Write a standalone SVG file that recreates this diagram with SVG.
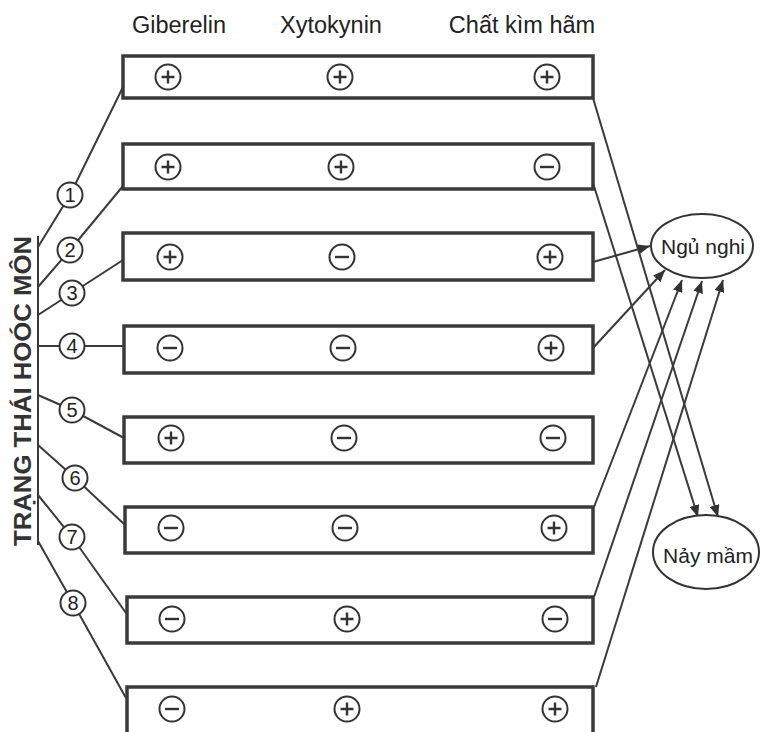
<svg xmlns="http://www.w3.org/2000/svg" xmlns:xlink="http://www.w3.org/1999/xlink" width="761" height="732" viewBox="0 0 761 732">
<style>
.box{fill:none;stroke:#3a3a3a;stroke-width:3.5}
.ln{fill:none;stroke:#3a3a3a;stroke-width:2}
.arr{fill:none;stroke:#3a3a3a;stroke-width:2;marker-end:url(#ah)}
.sg circle{fill:#fff;stroke:#333;stroke-width:2}
.sg path{stroke:#333;stroke-width:2.4;fill:none}
.num circle{fill:#fff;stroke:#333;stroke-width:2}
.num text{font-family:"Liberation Sans",Arial,sans-serif;font-size:20px;fill:#222;text-anchor:middle}
.hdr{font-family:"Liberation Sans",Arial,sans-serif;font-size:23.5px;fill:#222;text-anchor:middle}
.ell{fill:#fff;stroke:#333;stroke-width:2}
.elt{font-family:"Liberation Sans",Arial,sans-serif;font-size:21px;fill:#222;text-anchor:middle}
.vt{font-family:"Liberation Sans",Arial,sans-serif;font-size:23px;font-weight:bold;fill:#333;text-anchor:middle}
</style>
<defs>
<marker id="ah" viewBox="0 0 12 10" refX="12" refY="5" markerWidth="12" markerHeight="10" markerUnits="userSpaceOnUse" orient="auto">
<path d="M0,0L12,5L0,10z" fill="#333"/>
</marker>
<g id="p" class="sg"><circle r="12.5"/><path d="M-6.5,0H6.5M0,-6.5V6.5"/></g>
<g id="m" class="sg"><circle r="12.5"/><path d="M-7,0H7"/></g>
</defs>
<rect width="761" height="732" fill="#fff"/>

<g id="headers">
<text class="hdr" x="179" y="33">Giberelin</text>
<text class="hdr" x="331" y="33">Xytokynin</text>
<text class="hdr" x="522" y="33">Chất kìm hãm</text>
</g>

<g id="connectors">
<path class="ln" d="M38,236V545"/>
<path class="ln" d="M38,247L70,195L123,87"/>
<path class="ln" d="M38,287L70,250L123,186"/>
<path class="ln" d="M38,315L72,293L123,260"/>
<path class="ln" d="M38,346H124"/>
<path class="ln" d="M38,395L72,410L124,438"/>
<path class="ln" d="M38,445L75,478L125,525"/>
<path class="ln" d="M38,495L72,537L126,613"/>
<path class="ln" d="M38,541L73,603L126,698"/>
<path class="arr" d="M593,262L650,246"/>
<path class="arr" d="M593,348L665,270"/>
<path class="arr" d="M594,507L682,280"/>
<path class="arr" d="M594,597L702,281"/>
<path class="arr" d="M596,687L723,280"/>
<path class="arr" d="M593,98L718,517"/>
<path class="arr" d="M593,183L698,517"/>
</g>

<text class="vt" transform="translate(31,391) rotate(-90)" textLength="310" lengthAdjust="spacingAndGlyphs">TRẠNG THÁI HOÓC MÔN</text>

<g id="n1" class="num"><circle cx="70" cy="195" r="12.5"/><text x="70" y="202">1</text></g>
<g id="n2" class="num"><circle cx="70" cy="250" r="12.5"/><text x="70" y="257">2</text></g>
<g id="n3" class="num"><circle cx="72" cy="293" r="12.5"/><text x="72" y="300">3</text></g>
<g id="n4" class="num"><circle cx="72" cy="346" r="12.5"/><text x="72" y="353">4</text></g>
<g id="n5" class="num"><circle cx="72" cy="410" r="12.5"/><text x="72" y="417">5</text></g>
<g id="n6" class="num"><circle cx="75" cy="478" r="12.5"/><text x="75" y="485">6</text></g>
<g id="n7" class="num"><circle cx="72" cy="537" r="12.5"/><text x="72" y="544">7</text></g>
<g id="n8" class="num"><circle cx="73" cy="603" r="12.5"/><text x="73" y="610">8</text></g>

<g id="box1"><rect class="box" x="123" y="56" width="470" height="42"/>
<use xlink:href="#p" x="168" y="77"/><use xlink:href="#p" x="340" y="77"/><use xlink:href="#p" x="547" y="77"/></g>
<g id="box2"><rect class="box" x="123" y="144" width="470" height="45"/>
<use xlink:href="#p" x="168" y="167"/><use xlink:href="#p" x="341" y="167"/><use xlink:href="#m" x="547" y="167"/></g>
<g id="box3"><rect class="box" x="123" y="233" width="470" height="47"/>
<use xlink:href="#p" x="170" y="257"/><use xlink:href="#m" x="342" y="257"/><use xlink:href="#p" x="550" y="257"/></g>
<g id="box4"><rect class="box" x="124" y="326" width="469" height="47"/>
<use xlink:href="#m" x="170" y="348"/><use xlink:href="#m" x="343" y="348"/><use xlink:href="#p" x="551" y="348"/></g>
<g id="box5"><rect class="box" x="124" y="417" width="469" height="46"/>
<use xlink:href="#p" x="171" y="438"/><use xlink:href="#m" x="344" y="438"/><use xlink:href="#m" x="553" y="438"/></g>
<g id="box6"><rect class="box" x="125" y="507" width="468" height="46"/>
<use xlink:href="#m" x="171" y="528"/><use xlink:href="#m" x="345" y="528"/><use xlink:href="#p" x="554" y="528"/></g>
<g id="box7"><rect class="box" x="127" y="597" width="466" height="46"/>
<use xlink:href="#m" x="172" y="619"/><use xlink:href="#p" x="347" y="619"/><use xlink:href="#m" x="555" y="619"/></g>
<g id="box8"><rect class="box" x="127" y="687" width="466" height="60"/>
<use xlink:href="#m" x="172" y="709"/><use xlink:href="#p" x="347" y="709"/><use xlink:href="#p" x="555" y="709"/></g>

<g id="ngu-nghi"><ellipse class="ell" cx="702" cy="246" rx="51" ry="32"/><text class="elt" x="703" y="254">Ngủ nghi</text></g>
<g id="nay-mam"><ellipse class="ell" cx="706" cy="552" rx="53" ry="37"/><text class="elt" x="708" y="563">Nảy mầm</text></g>
</svg>
